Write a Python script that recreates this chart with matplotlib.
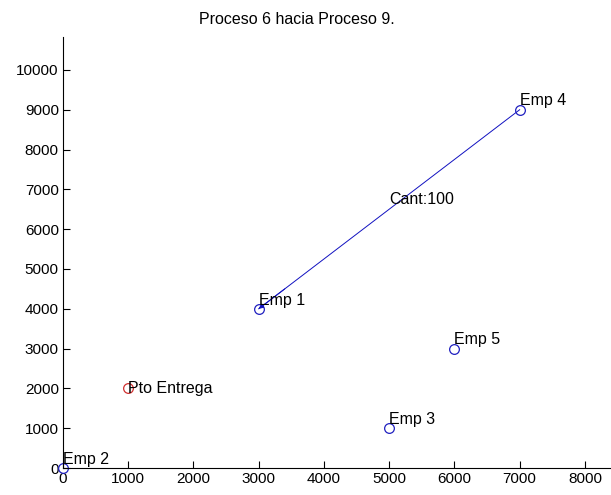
import matplotlib
matplotlib.use("Agg")
import matplotlib.pyplot as plt

# puntos de las empresas
emp_names = ["Emp 1", "Emp 2", "Emp 3", "Emp 4", "Emp 5"]
emp_x = [3000, 0, 5000, 7000, 6000]
emp_y = [4000, 0, 1000, 9000, 3000]

# punto de entrega
pto_name = "Pto Entrega"
pto_x = [1000]
pto_y = [2000]

# ruta (desde Emp 4 hacia Emp 1)
route_x = [7000, 3000]
route_y = [9000, 4000]
route_label = "Cant:100"

x_ticks = [0, 1000, 2000, 3000, 4000, 5000, 6000, 7000, 8000]
y_ticks = [0, 1000, 2000, 3000, 4000, 5000, 6000, 7000, 8000, 9000, 10000]

plt.rcParams["font.family"] = ["Liberation Sans", "DejaVu Sans"]
plt.rcParams["font.size"] = 11


def plot_chart():
    fig = plt.figure(figsize=(6.11, 4.95), dpi=100)
    ax = fig.add_axes([0.103, 0.0545, 0.897, 0.871])

    # ruta con flecha
    ax.plot(route_x, route_y, color="#1010c0", lw=0.7)
    ax.annotate("", xy=(route_x[1], route_y[1]),
                xytext=(route_x[1] + 400, route_y[1] + 500),
                arrowprops=dict(arrowstyle="-|>", color="#1010c0", lw=0.7,
                                mutation_scale=7, shrinkA=0, shrinkB=0))
    mid_x = (route_x[0] + route_x[1]) / 2
    mid_y = (route_y[0] + route_y[1]) / 2
    ax.text(mid_x, mid_y + 250, route_label, ha="left", va="center",
            fontsize=11.5)

    # empresas
    ax.plot(emp_x, emp_y, "o", mfc="none", mec="#2020c0", ms=7, mew=0.9,
            clip_on=False)
    for name, x, y in zip(emp_names, emp_x, emp_y):
        ax.text(x, y + 220, name, ha="left", va="center", fontsize=11.5)

    # punto de entrega
    ax.plot(pto_x, pto_y, "o", mfc="none", mec="#d03030", ms=7, mew=0.9)
    ax.text(pto_x[0], pto_y[0], pto_name, ha="left", va="center",
            fontsize=11.5)

    ax.set_xlim(0, 8400)
    ax.set_ylim(0, 10830)
    ax.set_xticks(x_ticks)
    ax.set_yticks(y_ticks)
    ax.tick_params(direction="in", length=5, width=0.8, pad=3)
    ax.spines["top"].set_visible(False)
    ax.spines["right"].set_visible(False)
    ax.set_title("Proceso 6 hacia Proceso 9.", fontsize=11.5, x=0.427, pad=9)
    return fig


def main():
    fig = plot_chart()
    fig.savefig("out.png", dpi=100)
    plt.close(fig)


if __name__ == "__main__":
    main()
